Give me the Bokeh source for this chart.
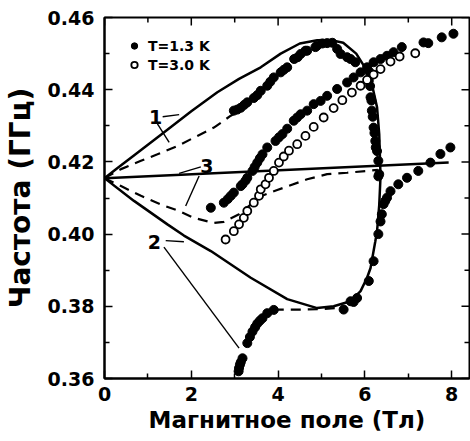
import math
from bokeh.plotting import figure
from bokeh.models import (FixedTicker, PrintfTickFormatter, Legend, LegendItem, Range1d)
from bokeh.core.properties import value
from bokeh.embed import file_html
from bokeh.resources import INLINE

FONT = "DejaVu Sans"

# ---- data: T = 1.3 K (filled) ----
t13_x = [2.98, 3.06, 3.14, 3.22, 3.29, 3.44, 3.52, 3.60, 3.75, 3.82, 3.90, 4.06, 4.13, 4.21, 4.37, 4.45,
         4.52, 4.63, 4.67, 4.86, 4.90, 5.02, 5.13, 5.25, 5.36, 5.44, 5.59, 5.67, 5.78,
         6.09, 6.10, 6.12, 6.13, 6.15, 6.16, 6.18, 6.20, 6.22, 6.24, 6.25, 6.28, 6.31, 6.33, 6.31,
         5.51, 5.67, 5.74, 5.82, 6.09, 6.20, 6.31, 6.36, 6.39, 6.43, 6.47, 6.51, 6.59, 6.77, 6.97,
         7.23, 7.51, 7.74, 7.97,
         3.09, 3.10, 3.12, 3.14, 3.18, 3.29, 3.35, 3.41, 3.47, 3.52, 3.58, 3.64, 3.75, 3.90,
         2.45, 2.75, 2.84, 2.91, 2.98, 3.14, 3.18, 3.25, 3.29, 3.41, 3.46, 3.52, 3.58, 3.64, 3.75,
         3.94, 4.02, 4.10, 4.21, 4.36, 4.44, 4.52, 4.67, 4.82, 4.98, 5.13, 5.36, 5.59, 5.74, 5.90,
         6.05, 6.20, 6.36, 6.51, 6.66, 6.85, 7.35, 7.46, 7.77, 8.04]
t13_y = [0.4342, 0.4345, 0.4350, 0.4358, 0.4365, 0.4377, 0.4385, 0.4397, 0.4411, 0.4422, 0.4434, 0.4448,
         0.4455, 0.4462, 0.4485, 0.4490, 0.4499, 0.4508, 0.4508, 0.4518, 0.4522, 0.4528, 0.4529, 0.4530,
         0.4513, 0.4499, 0.4490, 0.4485, 0.4476,
         0.4425, 0.4450, 0.4410, 0.4379, 0.4370, 0.4342, 0.4325, 0.4295, 0.4280, 0.4258, 0.4240, 0.4230,
         0.4203, 0.4166, 0.4160,
         0.3791, 0.3814, 0.3812, 0.3823, 0.3870, 0.3925, 0.4000, 0.4035, 0.4055, 0.4083, 0.4092, 0.4101,
         0.4119, 0.4138, 0.4156, 0.4175, 0.4198, 0.4222, 0.4240,
         0.3620, 0.3629, 0.3638, 0.3645, 0.3656, 0.3698, 0.3715, 0.3730, 0.3742, 0.3752, 0.3760, 0.3767,
         0.3781, 0.3790,
         0.4073, 0.4087, 0.4097, 0.4106, 0.4115, 0.4133, 0.4138, 0.4148, 0.4156, 0.4175, 0.4186, 0.4198,
         0.4210, 0.4221, 0.4240, 0.4258, 0.4268, 0.4277, 0.4292, 0.4314, 0.4323, 0.4332, 0.4342, 0.4360,
         0.4369, 0.4383, 0.4402, 0.4420, 0.4434, 0.4448, 0.4462, 0.4476, 0.4485, 0.4494, 0.4504, 0.4518,
         0.4531, 0.4529, 0.4545, 0.4555]

# ---- data: T = 3.0 K (open) ----
t30_x = [2.79, 2.98, 3.10, 3.21, 3.29, 3.44, 3.56, 3.60, 3.71, 3.79, 3.90, 4.02, 4.13, 4.25, 4.44, 4.63,
         4.82, 5.05, 5.28, 5.48, 5.70, 5.90, 6.05, 6.20, 6.36, 6.59, 6.80, 7.16]
t30_y = [0.3985, 0.4008, 0.4027, 0.4045, 0.4064, 0.4087, 0.4106, 0.4124, 0.4138, 0.4156, 0.4175, 0.4198,
         0.4215, 0.4231, 0.4249, 0.4272, 0.4297, 0.4323, 0.4349, 0.4371, 0.4392, 0.4411, 0.4427, 0.4442,
         0.4457, 0.4478, 0.4492, 0.4501]

# ---- theory curves ----
c1_x = [0, 0.3, 0.7, 1.3, 2.0, 2.6, 3.1, 3.6, 4.06, 4.5, 4.9, 5.2, 5.5, 5.8, 6.0, 6.16, 6.28, 6.33, 6.35, 6.36]
c1_y = [0.4155, 0.4183, 0.4220, 0.4275, 0.4340, 0.4393, 0.4430, 0.4462, 0.4500, 0.4528, 0.4537, 0.4538,
        0.4530, 0.4500, 0.4462, 0.4416, 0.4351, 0.4277, 0.4200, 0.4160]
c2_x = [0, 0.68, 1.45, 1.83, 2.45, 3.37, 4.21, 4.9, 5.28, 5.67, 5.9, 6.05, 6.13, 6.24, 6.28, 6.33, 6.36]
c2_y = [0.4155, 0.4092, 0.4027, 0.3996, 0.3953, 0.3879, 0.3820, 0.3795, 0.3800, 0.3814, 0.3842, 0.3879,
        0.3906, 0.3980, 0.4008, 0.4080, 0.4160]
c3_x = [0, 7.93]
c3_y = [0.4155, 0.4198]

d1_x = [0, 0.38, 0.84, 1.22, 1.68, 2.14, 2.52, 2.91, 3.1, 3.3]
d1_y = [0.4155, 0.4180, 0.4203, 0.4221, 0.4244, 0.4272, 0.4295, 0.4328, 0.4342, 0.4362]
d3_x = [0, 0.38, 0.84, 1.3, 1.72, 2.06, 2.52, 2.75, 3.1, 3.6, 3.98, 4.67, 5.13, 5.59, 6.05, 6.3]
d3_y = [0.4155, 0.4133, 0.4106, 0.4082, 0.4064, 0.4045, 0.4031, 0.4034, 0.4055, 0.4105, 0.4122, 0.4152,
        0.4166, 0.4170, 0.4175, 0.4178]
d2_x = [3.9, 4.5, 5.0, 5.45]
d2_y = [0.3791, 0.3791, 0.3792, 0.3796]

# ---- curve labels and leader lines ----
lab_text = ["1", "3", "2"]
lab_x = [1.18, 2.36, 1.15]
lab_y = [0.4324, 0.4189, 0.3979]
lead_x0 = [1.34, 1.22, 2.22, 2.18, 1.41, 1.37]
lead_y0 = [0.4325, 0.4305, 0.4186, 0.4161, 0.3982, 0.3964]
lead_x1 = [1.72, 1.49, 1.72, 1.87, 1.83, 3.10]
lead_y1 = [0.4331, 0.4254, 0.4168, 0.4078, 0.3979, 0.3684]

X_MIN, X_MAX = 0, 8.41
Y_MIN, Y_MAX = 0.36, 0.46
x_ticks = [0, 2, 4, 6, 8]
x_minor = [1, 3, 5, 7]
y_ticks = [0.36, 0.38, 0.40, 0.42, 0.44, 0.46]
y_minor = [0.37, 0.39, 0.41, 0.43, 0.45]

p = figure(width=470, height=441, output_backend="svg", toolbar_location=None,
           x_range=Range1d(X_MIN, X_MAX), y_range=Range1d(Y_MIN, Y_MAX),
           min_border_left=103, min_border_right=1, min_border_top=17, min_border_bottom=63)
p.background_fill_color = "white"
p.border_fill_color = "white"
p.outline_line_color = "black"
p.outline_line_width = 2
p.xgrid.visible = False
p.ygrid.visible = False

xa = p.xaxis[0]
ya = p.yaxis[0]
for ax, ticks, minor in ((xa, x_ticks, x_minor), (ya, y_ticks, y_minor)):
    ax.ticker = FixedTicker(ticks=ticks, minor_ticks=minor)
    ax.axis_line_color = "black"
    ax.axis_line_width = 2
    ax.major_tick_in = 8
    ax.major_tick_out = 0
    ax.minor_tick_in = 5
    ax.minor_tick_out = 0
    ax.major_tick_line_width = 1.5
    ax.minor_tick_line_width = 1.5
    ax.major_tick_line_color = "black"
    ax.minor_tick_line_color = "black"
    ax.major_label_text_font = FONT
    ax.major_label_text_font_style = "bold"
    ax.major_label_text_font_size = "19px"
    ax.major_label_text_color = "black"
    ax.axis_label_text_font = FONT
    ax.axis_label_text_font_style = "bold"
    ax.axis_label_text_color = "black"
xa.formatter = PrintfTickFormatter(format="%d")
ya.formatter = PrintfTickFormatter(format="%.2f")
xa.major_label_standoff = 8
ya.major_label_standoff = 10
xa.axis_label = "Магнитное поле (Тл)"
ya.axis_label = "Частота (ГГц)"
xa.axis_label_text_font_size = "23px"
ya.axis_label_text_font_size = "28px"
xa.axis_label_standoff = 3
ya.axis_label_standoff = 8

# inward ticks on the right and top frame edges (half of each dash is clipped by the frame)
p.scatter([X_MAX] * len(y_ticks), y_ticks, marker="dash", size=16, line_color="black", line_width=1.5)
p.scatter([X_MAX] * len(y_minor), y_minor, marker="dash", size=10, line_color="black", line_width=1.5)
p.scatter(x_ticks, [Y_MAX] * len(x_ticks), marker="dash", size=16, angle=math.pi / 2,
          line_color="black", line_width=1.5)
p.scatter(x_minor, [Y_MAX] * len(x_minor), marker="dash", size=10, angle=math.pi / 2,
          line_color="black", line_width=1.5)

# theory lines
p.line(c1_x, c1_y, line_color="black", line_width=2.5)
p.line(c2_x, c2_y, line_color="black", line_width=2.5)
p.line(c3_x, c3_y, line_color="black", line_width=2.5)
for dx, dy in ((d1_x, d1_y), (d3_x, d3_y), (d2_x, d2_y)):
    p.line(dx, dy, line_color="black", line_width=2.2, line_dash="10 7")

# leaders & labels
p.segment(x0=lead_x0, y0=lead_y0, x1=lead_x1, y1=lead_y1, line_color="black", line_width=1.4)
p.text(x=lab_x, y=lab_y, text=lab_text, text_font=value(FONT), text_font_style="bold",
       text_font_size="19px", text_align="center", text_baseline="middle", text_color="black")

# data
r13 = p.scatter(t13_x, t13_y, marker="circle", size=9, fill_color="black", line_color="black")
r30 = p.scatter(t30_x, t30_y, marker="circle", size=8, fill_color="white", line_color="black",
                line_width=1.8)

leg = Legend(items=[LegendItem(label="T=1.3 K", renderers=[r13]),
                    LegendItem(label="T=3.0 K", renderers=[r30])],
             location=(22, 304), padding=0, margin=0, spacing=0,
             glyph_width=16, glyph_height=19, label_height=19, label_standoff=6,
             label_text_font=FONT, label_text_font_style="bold", label_text_font_size="14px",
             label_text_color="black", border_line_color=None, background_fill_alpha=0)
p.add_layout(leg, "center")

open("out.html", "w").write(file_html(p, INLINE))
